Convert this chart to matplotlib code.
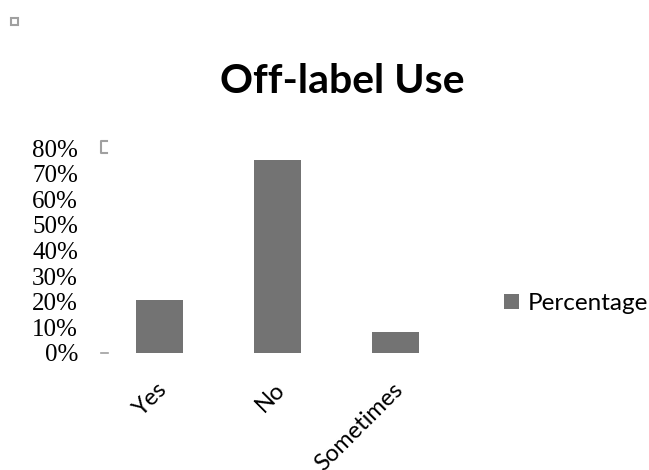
import matplotlib.pyplot as plt
import matplotlib.transforms as mtransforms
from matplotlib.patches import Rectangle
from matplotlib.lines import Line2D

# Survey answers and their share (%)
categories = ['Yes', 'No', 'Sometimes']
percentages = [20.7, 75.2, 8.2]
y_ticks = [0, 10, 20, 30, 40, 50, 60, 70, 80]
y_tick_labels = ['%d%%' % t for t in y_ticks]

bar_color = '#737373'
label_font = 'Lato'

fig = plt.figure(figsize=(6.49, 4.70), dpi=100)
ax = fig.add_axes([0.1556, 0.249, 0.544, 0.436])

x = range(len(categories))
ax.bar(x, percentages, width=0.4, color=bar_color, label='Percentage')
ax.set_xlim(-0.5, 2.5)
ax.set_ylim(0, 80)

# y axis: serif percent labels, no visible tick lines
ax.set_yticks(y_ticks)
ax.set_yticklabels(y_tick_labels, fontfamily='Liberation Serif', fontsize=18)
ax.tick_params(axis='y', length=0, pad=16.5)

# x axis: rotated category names, nudged a little to the right
ax.set_xticks(list(x))
ax.set_xticklabels(categories, rotation=45, ha='right', va='center',
                   rotation_mode='anchor', fontfamily=label_font, fontsize=17)
ax.tick_params(axis='x', length=0, pad=24)
nudge = mtransforms.ScaledTranslation(4 / 100, 0, fig.dpi_scale_trans)
for lbl in ax.get_xticklabels():
    lbl.set_transform(lbl.get_transform() + nudge)

for side in ['top', 'right', 'bottom', 'left']:
    ax.spines[side].set_visible(False)

fig.text(0.527, 0.826, 'Off-label Use', ha='center', va='center',
         fontfamily=label_font, fontweight='bold', fontsize=29.5)

leg = ax.legend(loc='center left', bbox_to_anchor=(1.08, 0.24), frameon=False,
                handlelength=0.6, handleheight=0.6, handletextpad=0.35,
                prop={'family': label_font, 'size': 17.5})

# small leftover axis marks
W, H = 649.0, 470.0
gray = '#a0a0a0'
fig.add_artist(Rectangle((11 / W, 1 - 25 / H), 7 / W, 7 / H, fill=False,
                         edgecolor=gray, linewidth=1.5, transform=fig.transFigure))
fig.add_artist(Line2D([107 / W, 101 / W, 101 / W, 107 / W],
                      [1 - 141 / H, 1 - 141 / H, 1 - 153 / H, 1 - 153 / H],
                      color=gray, linewidth=1.5, transform=fig.transFigure))
fig.add_artist(Line2D([101 / W, 108 / W], [1 - 353 / H, 1 - 353 / H],
                      color=gray, linewidth=1.2, transform=fig.transFigure))

fig.savefig('out.png', dpi=100)
